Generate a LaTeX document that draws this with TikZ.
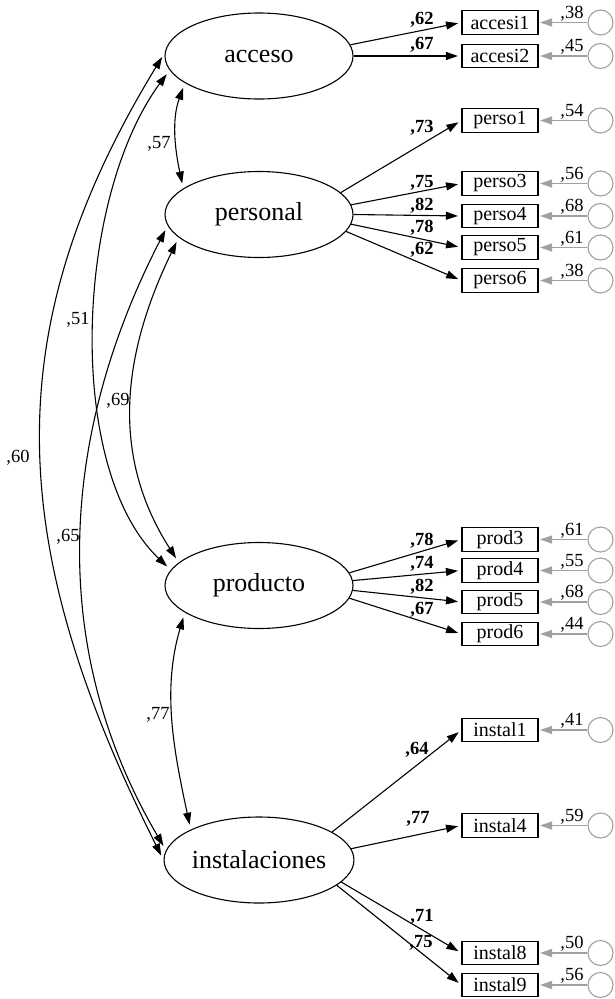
\documentclass[tikz,border=0pt]{standalone}
\usepackage{fontspec}
\setmainfont{Liberation Serif}
\usetikzlibrary{arrows.meta,shapes.geometric}
\definecolor{errgray}{RGB}{160,160,160}

\begin{document}
\begin{tikzpicture}[x=1pt,y=-1pt,
  latent/.style={draw, ellipse, line width=1.1pt, minimum width=188pt,
    minimum height=86pt, inner sep=0pt, font=\fontsize{26}{30}\selectfont},
  obs/.style={draw, rectangle, line width=1.1pt, minimum width=76pt,
    minimum height=23.5pt, inner sep=0pt, font=\fontsize{20}{22}\selectfont},
  err/.style={draw=errgray, circle, line width=1.1pt, minimum size=25pt, inner sep=0pt},
  tip/.style={-{Triangle[length=12pt,width=8pt]}},
  load/.style={line width=1.1pt, tip, shorten >=3.5pt},
  errpath/.style={draw=errgray, line width=1.1pt, tip, shorten >=1.5pt},
  cov/.style={line width=1.1pt,
    {Triangle[length=12pt,width=8pt]}-{Triangle[length=12pt,width=8pt]},
    shorten >=5pt, shorten <=5pt},
  wlab/.style={font=\bfseries\fontsize{18.5}{20}\selectfont, inner sep=0pt},
  clab/.style={font=\fontsize{18.5}{20}\selectfont, inner sep=0pt},
]
\useasboundingbox (0,0) rectangle (615,999);

% latent factors
\node[latent] (acceso)        at (259,56)    {acceso};
\node[latent] (personal)      at (259,214.5) {personal};
\node[latent] (producto)      at (259,585.5) {producto};
\node[latent] (instalaciones) at (259,860)   {instalaciones};

% indicators, their error terms and the error variances
\foreach \n/\y/\e in {accesi1/22.5/{,38}, accesi2/56/{,45},
    perso1/120.5/{,54}, perso3/183.5/{,56}, perso4/216/{,68}, perso5/247.5/{,61}, perso6/280.5/{,38},
    prod3/539.5/{,61}, prod4/570.5/{,55}, prod5/602/{,68}, prod6/634/{,44},
    instal1/730/{,41}, instal4/825.5/{,59}, instal8/953/{,50}, instal9/985/{,56}} {
  \node[obs] (\n) at (500,\y) {\n};
  \node[err] (e-\n) at (600.5,\y) {};
  \draw[errpath] (e-\n) -- (\n);
  \node[clab] (v-\n) at (572,\y-9) {\e};
}

% factor loadings
\draw[load] (acceso.7)    -- (accesi1.west);
\draw[load] (acceso.east) -- (accesi2.west);
\node[wlab] (w1) at (422,20) {,62};
\node[wlab] (w2) at (422,45) {,67};

\draw[load] (personal.15)   -- (perso1.west);
\draw[load] (personal.6)    -- (perso3.west);
\draw[load] (personal.east) -- (perso4.west);
\draw[load] (personal.354)  -- (perso5.west);
\draw[load] (personal.349)  -- (perso6.west);
\node[wlab] (w3) at (422,128) {,73};
\node[wlab] (w4) at (422,183) {,75};
\node[wlab] (w5) at (422,206) {,82};
\node[wlab] (w6) at (422,228) {,78};
\node[wlab] (w7) at (422,250) {,62};

\draw[load] (producto.8)   -- (prod3.west);
\draw[load] (producto.3)   -- (prod4.west);
\draw[load] (producto.357) -- (prod5.west);
\draw[load] (producto.352) -- (prod6.west);
\node[wlab] (w8)  at (422,541) {,78};
\node[wlab] (w9)  at (422,564) {,74};
\node[wlab] (w10) at (422,587) {,82};
\node[wlab] (w11) at (422,610) {,67};

\draw[load] (instalaciones.21)  -- (instal1.west);
\draw[load] (instalaciones.7)   -- (instal4.west);
\draw[load] (instalaciones.345) -- (instal8.west);
\draw[load] (instalaciones.342) -- (instal9.west);
\node[wlab] (w12) at (417,750) {,64};
\node[wlab] (w13) at (418,819) {,77};
\node[wlab] (w14) at (422,917) {,71};
\node[wlab] (w15) at (421,943) {,75};

% correlations between factors
\draw[cov] (acceso.178) .. controls (-6.3,333.2) and (7.5,548.5) .. (instalaciones.180);
\draw[cov] (acceso.189) .. controls (75.3,198.6) and (64.4,468.2) .. (producto.170);
\draw[cov] (acceso.200) .. controls (171.4,120.4) and (175.1,150.1) .. (personal.161);
\draw[cov] (personal.187) .. controls (59.6,435.6) and (47,647.4) .. (instalaciones.174);
\draw[cov] (personal.196) .. controls (122.6,353.4) and (109.7,454.6) .. (producto.164);
\draw[cov] (producto.200) .. controls (161.8,690.3) and (173.8,750.3) .. (instalaciones.156);

\node[clab] (c60) at (18,458)  {,60};
\node[clab] (c51) at (78,320)  {,51};
\node[clab] (c57) at (159,144) {,57};
\node[clab] (c65) at (68,537)  {,65};
\node[clab] (c69) at (118,401) {,69};
\node[clab] (c77) at (158,715) {,77};
\end{tikzpicture}
\end{document}
